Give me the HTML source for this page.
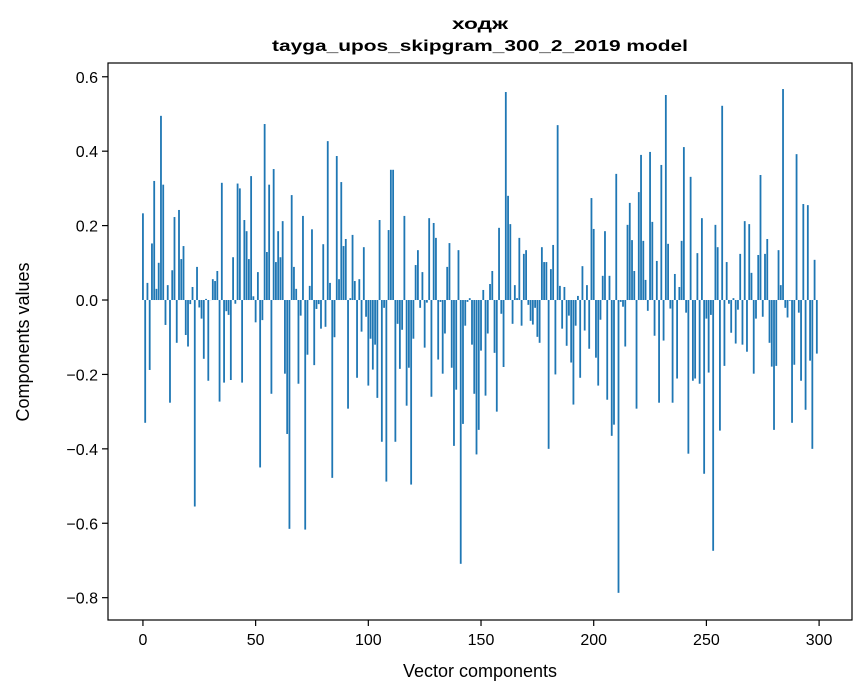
<!DOCTYPE html>
<html><head><meta charset="utf-8"><style>
html,body{margin:0;padding:0;background:#fff;}
svg{display:block;font-family:"Liberation Sans","DejaVu Sans",sans-serif;}
</style></head><body>
<svg id="chart" width="867" height="696" viewBox="0 0 867 696" xmlns="http://www.w3.org/2000/svg">
<rect width="867" height="696" fill="#fff"/>
<text x="480" y="29" text-anchor="middle" font-weight="bold" font-size="16" textLength="56" lengthAdjust="spacingAndGlyphs">ходж</text>
<text x="480" y="51" text-anchor="middle" font-weight="bold" font-size="16" textLength="416" lengthAdjust="spacingAndGlyphs">tayga_upos_skipgram_300_2_2019 model</text>
<g id="bars"></g>
<g id="axes"></g>
<text x="480" y="677" text-anchor="middle" font-size="18">Vector components</text>
<text transform="translate(29,342) rotate(-90)" text-anchor="middle" font-size="18">Components values</text>
</svg>
<script>
const values = [
0.233,-0.33,0.046,-0.188,0.152,0.32,0.03,0.10,0.495,0.31,
-0.067,0.04,-0.276,0.08,0.223,-0.115,0.242,0.11,0.145,-0.094,
-0.125,-0.011,0.035,-0.555,0.089,-0.02,-0.05,-0.158,0.003,-0.217,
0.0,0.056,0.051,0.078,-0.273,0.315,-0.222,-0.03,-0.04,-0.215,
0.115,-0.01,0.313,0.30,-0.222,0.215,0.185,0.11,0.333,0.01,
-0.06,0.075,-0.45,-0.054,0.473,0.129,0.31,-0.252,0.352,0.102,
0.185,0.115,0.212,-0.198,-0.36,-0.615,0.282,0.089,0.03,-0.225,
-0.042,0.226,-0.617,-0.147,0.038,0.19,-0.175,-0.024,-0.011,-0.077,
0.15,-0.072,0.427,0.046,-0.478,-0.1,0.387,0.056,0.317,0.145,
0.164,-0.292,0.005,0.175,0.051,-0.209,0.056,-0.085,0.142,-0.045,
-0.23,-0.104,-0.187,-0.12,-0.263,0.215,-0.381,-0.021,-0.488,0.188,
0.35,0.35,-0.381,-0.064,-0.185,-0.08,0.226,-0.284,-0.182,-0.496,
-0.104,0.094,0.134,-0.021,0.075,-0.128,-0.007,0.22,-0.26,0.207,
0.167,-0.16,-0.005,-0.198,-0.09,0.089,0.153,-0.182,-0.392,-0.241,
0.134,-0.709,-0.333,-0.069,-0.005,0.005,-0.12,-0.252,-0.415,-0.349,
-0.136,0.027,-0.257,-0.09,0.043,0.078,-0.142,-0.30,0.194,-0.037,
-0.18,0.559,0.28,0.204,-0.064,0.04,0.005,0.167,-0.069,0.124,
0.134,-0.013,-0.056,-0.066,-0.021,-0.099,-0.115,0.142,0.102,0.102,
-0.40,0.083,0.148,-0.2,0.47,0.038,-0.077,0.035,-0.123,-0.042,
-0.168,-0.281,-0.069,0.011,-0.209,0.091,-0.082,0.04,-0.131,0.274,
0.191,-0.155,-0.23,-0.053,0.065,0.185,-0.268,0.065,-0.365,-0.335,
0.339,-0.787,-0.005,-0.018,-0.125,0.202,0.261,0.161,0.078,-0.292,
0.29,0.39,0.159,0.054,-0.029,0.398,0.21,-0.096,0.105,-0.276,
0.363,-0.109,0.551,0.151,-0.023,-0.276,0.07,-0.211,0.035,0.159,
0.411,-0.034,-0.413,0.331,-0.217,-0.211,0.126,-0.225,0.22,-0.467,
-0.05,-0.195,-0.04,-0.674,0.202,0.142,-0.351,0.522,-0.177,0.102,
-0.01,-0.088,0.005,-0.117,-0.026,0.124,-0.12,0.212,-0.139,0.204,
0.073,-0.198,-0.05,0.121,0.336,-0.045,0.124,0.164,-0.115,-0.179,
-0.349,-0.177,0.134,0.04,0.567,-0.021,-0.047,-0.002,-0.33,-0.174,
0.392,-0.034,-0.217,0.258,-0.295,0.255,-0.163,-0.40,0.108,-0.144
];
const xTicks = [0,50,100,150,200,250,300];
const yTicks = [-0.8,-0.6,-0.4,-0.2,0.0,0.2,0.4,0.6];
const yTickLabels = ["\u22120.8","\u22120.6","\u22120.4","\u22120.2","0.0","0.2","0.4","0.6"];

const NS = "http://www.w3.org/2000/svg";
const PL = 108, PR = 852, PT = 63, PB = 620;
const xMin = -15.5, xMax = 314.6;
const yMin = -0.86, yMax = 0.637;
function xs(v){ return PL + (v - xMin) / (xMax - xMin) * (PR - PL); }
function ys(v){ return PT + (yMax - v) / (yMax - yMin) * (PB - PT); }

const barsG = document.getElementById('bars');
values.forEach((v, i) => {
  const r = document.createElementNS(NS, 'rect');
  const x0 = xs(i - 0.4), x1 = xs(i + 0.4);
  const y0 = ys(Math.max(v, 0)), y1 = ys(Math.min(v, 0));
  r.setAttribute('x', x0);
  r.setAttribute('width', x1 - x0);
  r.setAttribute('y', y0);
  r.setAttribute('height', Math.max(y1 - y0, 0.1));
  r.setAttribute('fill', '#1f77b4');
  
  
  barsG.appendChild(r);
});

const axesG = document.getElementById('axes');
const frame = document.createElementNS(NS, 'rect');
frame.setAttribute('x', PL); frame.setAttribute('y', PT);
frame.setAttribute('width', PR - PL); frame.setAttribute('height', PB - PT);
frame.setAttribute('fill', 'none'); frame.setAttribute('stroke', '#000'); frame.setAttribute('stroke-width', '1.2');


axesG.appendChild(frame);

xTicks.forEach(t => {
  const x = xs(t);
  const l = document.createElementNS(NS, 'line');
  l.setAttribute('x1', x); l.setAttribute('x2', x); l.setAttribute('y1', PB); l.setAttribute('y2', PB + 6);
  l.setAttribute('stroke', '#000'); l.setAttribute('stroke-width', '1.2');
  
  
  axesG.appendChild(l);
  const tx = document.createElementNS(NS, 'text');
  tx.setAttribute('x', x); tx.setAttribute('y', PB + 25);
  tx.setAttribute('text-anchor', 'middle'); tx.setAttribute('font-size', '16');
  tx.textContent = String(t);
  
  
  axesG.appendChild(tx);
});
yTicks.forEach((t, i) => {
  const y = ys(t);
  const l = document.createElementNS(NS, 'line');
  l.setAttribute('x1', PL - 6); l.setAttribute('x2', PL); l.setAttribute('y1', y); l.setAttribute('y2', y);
  l.setAttribute('stroke', '#000'); l.setAttribute('stroke-width', '1.2');
  
  
  axesG.appendChild(l);
  const tx = document.createElementNS(NS, 'text');
  tx.setAttribute('x', PL - 10); tx.setAttribute('y', y + 6);
  tx.setAttribute('text-anchor', 'end'); tx.setAttribute('font-size', '16');
  tx.textContent = yTickLabels[i];
  
  
  axesG.appendChild(tx);
});
</script>
</body></html>
